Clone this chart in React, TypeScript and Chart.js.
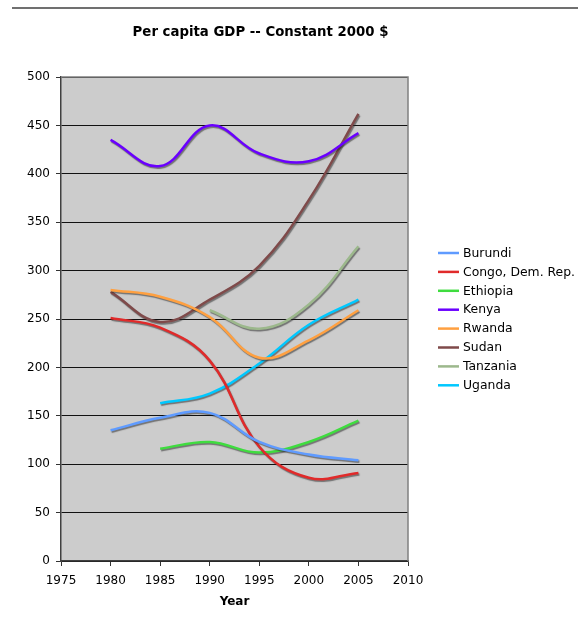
import React, { useEffect, useRef } from "react";
import { Chart, registerables } from "chart.js";

Chart.register(...registerables);

const chartTitle = "Per capita GDP -- Constant 2000 $";
const xAxisTitle = "Year";
const years = [1980, 1985, 1990, 1995, 2000, 2005];
const burundi = [135, 148, 153, 123, 110, 104];
const congo = [251, 241, 207, 118, 86, 91];
const ethiopia = [null, 116, 123, 112, 123, 145];
const kenya = [435, 408, 450, 421, 413, 442];
const rwanda = [280, 273, 252, 210, 228, 259];
const sudan = [278, 247, 270, 305, 373, 462];
const tanzania = [null, null, 259, 240, 265, 325];
const uganda = [null, 163, 173, 204, 244, 270];

const seriesNames = ["Burundi", "Congo, Dem. Rep.", "Ethiopia", "Kenya", "Rwanda", "Sudan", "Tanzania", "Uganda"];
const seriesValues = [burundi, congo, ethiopia, kenya, rwanda, sudan, tanzania, uganda];
const seriesColors = ["#5f9bff", "#e02a2a", "#3fdc3f", "#6a00ff", "#ffa040", "#7f4a4a", "#9cb88c", "#00c8ff"];

const FONT = "'DejaVu Sans', Verdana, sans-serif";

const decorPlugin = {
  id: "decor",
  beforeDraw(chart: any) {
    const { ctx, chartArea: a } = chart;
    ctx.save();
    ctx.fillStyle = "#ffffff";
    ctx.fillRect(0, 0, chart.width, chart.height);
    ctx.fillStyle = "#cccccc";
    ctx.fillRect(a.left, a.top, a.right - a.left, a.bottom - a.top);
    // top rule
    ctx.fillStyle = "#707070";
    ctx.fillRect(12, 7, chart.width - 12, 2);
    // title
    ctx.fillStyle = "#000";
    ctx.font = "bold 13.3px " + FONT;
    ctx.textAlign = "center";
    ctx.textBaseline = "middle";
    ctx.fillText(chartTitle, 260.5, 33);
    ctx.restore();
  },
  afterDraw(chart: any) {
    const { ctx, chartArea: a } = chart;
    ctx.save();
    ctx.strokeStyle = "#808080";
    ctx.lineWidth = 1.5;
    ctx.beginPath();
    ctx.moveTo(a.left, a.top);
    ctx.lineTo(a.right, a.top);
    ctx.lineTo(a.right, a.bottom);
    ctx.stroke();
    // legend
    ctx.font = "12.4px " + FONT;
    ctx.textAlign = "left";
    ctx.textBaseline = "middle";
    seriesNames.forEach((name, i) => {
      const y = 253 + i * 18.9;
      ctx.strokeStyle = seriesColors[i];
      ctx.lineWidth = 2.5;
      ctx.beginPath();
      ctx.moveTo(438, y);
      ctx.lineTo(459, y);
      ctx.stroke();
      ctx.fillStyle = "#000";
      ctx.fillText(name, 463, y + 0.5);
    });
    ctx.restore();
  },
  beforeDatasetsDraw(chart: any) {
    const ctx = chart.ctx;
    ctx.save();
    ctx.shadowColor = "rgba(40,40,40,0.55)";
    ctx.shadowOffsetX = 1;
    ctx.shadowOffsetY = 1.5;
    ctx.shadowBlur = 1;
  },
  afterDatasetsDraw(chart: any) {
    chart.ctx.restore();
  },
};

export default function App() {
  const ref = useRef<HTMLCanvasElement>(null);
  useEffect(() => {
    const datasets = seriesNames.map((name, i) => ({
      label: name,
      data: years
        .map((yr, j) => ({ x: yr, y: seriesValues[i][j] }))
        .filter((p) => p.y !== null),
      borderColor: seriesColors[i],
      backgroundColor: seriesColors[i],
      borderWidth: 2.5,
      pointRadius: 0,
      tension: 0.4,
      fill: false,
    }));
    const chart = new Chart(ref.current as HTMLCanvasElement, {
      type: "line",
      data: { datasets },
      plugins: [decorPlugin],
      options: {
        animation: false,
        responsive: false,
        maintainAspectRatio: false,
        layout: { padding: { top: 77, right: 170, bottom: 0, left: 0 } },
        plugins: { legend: { display: false }, title: { display: false }, tooltip: { enabled: false } },
        scales: {
          x: {
            type: "linear",
            min: 1975,
            max: 2010,
            afterFit: (s: any) => { s.height = 56; },
            ticks: {
              stepSize: 5,
              color: "#000",
              font: { family: FONT, size: 12 },
              padding: 8,
              maxRotation: 0,
              callback: (v: any) => String(v),
            },
            grid: { drawOnChartArea: false, drawTicks: true, tickLength: 5, color: "#333", lineWidth: 1 },
            border: { color: "#404040", width: 1.5 },
            title: { display: true, text: xAxisTitle, color: "#000", font: { family: FONT, size: 12, weight: "bold" }, padding: { top: 4, bottom: 8 } },
          },
          y: {
            min: 0,
            max: 500,
            afterFit: (s: any) => { s.width = 61; },
            ticks: { stepSize: 50, color: "#000", font: { family: FONT, size: 12 }, padding: 6 },
            grid: { color: "#111", lineWidth: 1, tickLength: 5, tickColor: "#333" },
            border: { color: "#404040", width: 1.5 },
          },
        },
      },
    } as any);
    return () => chart.destroy();
  }, []);
  return (
    <div style={{ position: "fixed", left: 0, top: 0, width: 578, height: 617 }}>
      <canvas ref={ref} width={578} height={617} style={{ width: 578, height: 617, display: "block" }} />
    </div>
  );
}
